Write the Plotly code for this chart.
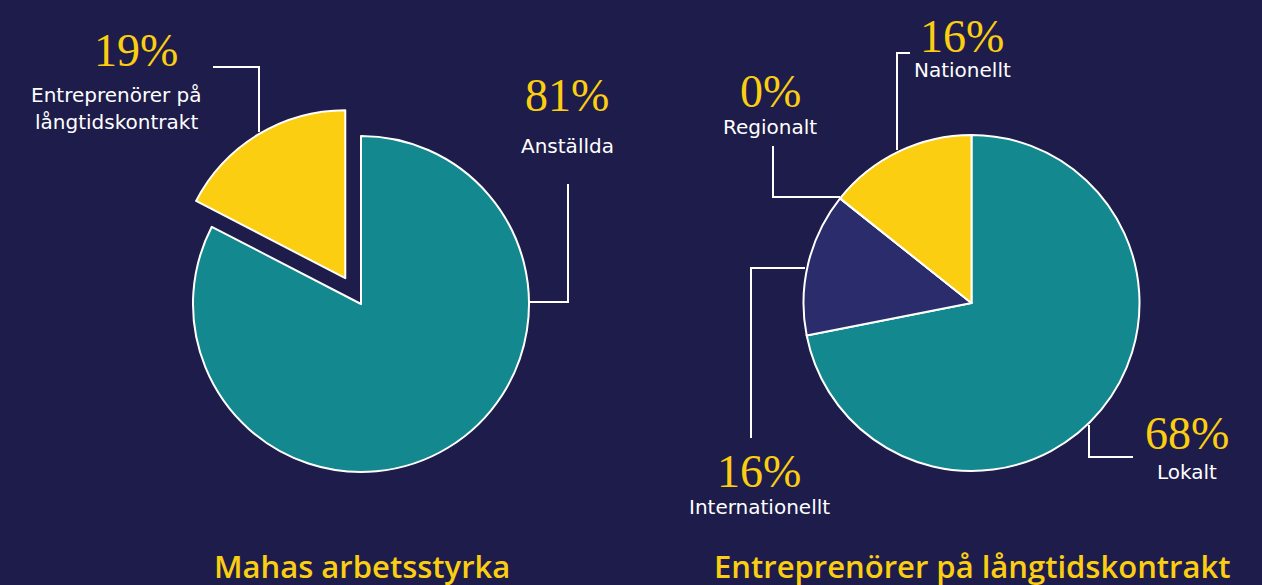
import plotly.graph_objects as go

W, H = 1262, 585

# ---- data ----
left_labels = ["Anställda", "Entreprenörer på långtidskontrakt"]
left_values = [82.6, 17.4]
left_text = ["81%", "19%"]

right_labels = ["Lokalt", "Internationellt", "Regionalt", "Nationellt"]
right_values = [71.9, 13.8, 0.0, 14.3]
right_text = ["68%", "16%", "0%", "16%"]

titles = ["Mahas arbetsstyrka", "Entreprenörer på långtidskontrakt"]

BG = "#1e1c4a"
TEAL = "#13888e"
YELLOW = "#fbce12"
NAVY = "#2a2c6c"
WHITE = "#ffffff"

def px(x):
    return x / W

def py(y):
    return 1 - y / H

def dom(cx, cy, size):
    return dict(x=[px(cx - size / 2), px(cx + size / 2)],
                y=[py(cy + size / 2), py(cy - size / 2)])

PULL = 0.18
R = 168

fig = go.Figure()
fig.add_trace(go.Pie(
    labels=left_labels, values=left_values, sort=False, direction="clockwise",
    rotation=0, pull=[0, PULL], textinfo="none", hoverinfo="label+percent",
    marker=dict(colors=[TEAL, YELLOW], line=dict(color=WHITE, width=2)),
    domain=dom(361, 304, 2 * R * (1 + PULL)), showlegend=False,
))
fig.add_trace(go.Pie(
    labels=right_labels, values=right_values, sort=False, direction="clockwise",
    rotation=0, textinfo="none", hoverinfo="label+percent",
    marker=dict(colors=[TEAL, NAVY, NAVY, YELLOW], line=dict(color=WHITE, width=2)),
    domain=dom(971.5, 303, 2 * R), showlegend=False,
))

# leader lines (pixel positions)
leaders = [
    [(213, 67), (259, 67), (259, 132)],
    [(568, 184), (568, 302), (529, 302)],
    [(910, 53), (897, 53), (897, 150)],
    [(773, 146), (773, 197), (840, 197)],
    [(805, 268), (751, 268), (751, 438)],
    [(1089, 425), (1089, 457), (1133, 457)],
]
shapes = []
for pts in leaders:
    path = "M " + " L ".join(f"{px(x):.5f},{py(y):.5f}" for x, y in pts)
    shapes.append(dict(type="path", xref="paper", yref="paper", path=path,
                       line=dict(color=WHITE, width=2)))

PCT_FONT = dict(family="Liberation Serif", size=46, color=YELLOW)
LBL_FONT = dict(family="DejaVu Sans", size=20, color=WHITE)

annotations = []
def pct(text, x, y):
    annotations.append(dict(text=text, x=px(x), y=py(y), xref="paper", yref="paper",
                            xanchor="center", yanchor="middle", showarrow=False, font=PCT_FONT))
def lbl(text, x, y):
    annotations.append(dict(text=text, x=px(x), y=py(y), xref="paper", yref="paper",
                            xanchor="center", yanchor="middle", showarrow=False, font=LBL_FONT))

pct(left_text[1], 136, 50)
lbl("Entreprenörer på", 116, 95)
lbl("långtidskontrakt", 116, 122)
pct(left_text[0], 567, 96)
lbl(left_labels[0], 567, 146)

pct(right_text[3], 962, 36)
lbl(right_labels[3], 962, 70)
pct(right_text[2], 770, 91)
lbl(right_labels[2], 770, 127)
pct(right_text[1], 759, 471)
lbl(right_labels[1], 759, 507)
pct(right_text[0], 1187, 433)
lbl(right_labels[0], 1187, 472)

TITLE_FONT = dict(family="Open Sans", size=31, color=YELLOW, weight=600)
annotations.append(dict(text=titles[0], x=px(361.5), y=py(566), xref="paper", yref="paper",
                        xanchor="center", yanchor="middle", showarrow=False, font=TITLE_FONT))
annotations.append(dict(text=titles[1], x=px(972), y=py(566), xref="paper", yref="paper",
                        xanchor="center", yanchor="middle", showarrow=False, font=TITLE_FONT))

fig.update_layout(
    width=W, height=H, margin=dict(l=0, r=0, t=0, b=0),
    paper_bgcolor=BG, plot_bgcolor=BG,
    shapes=shapes, annotations=annotations,
)
fig.write_html(
    "out.html",
    config={"displayModeBar": False},
    post_script="document.body.style.margin='0';document.body.style.background='%s';"
                "document.body.style.overflow='hidden';" % BG,
)
